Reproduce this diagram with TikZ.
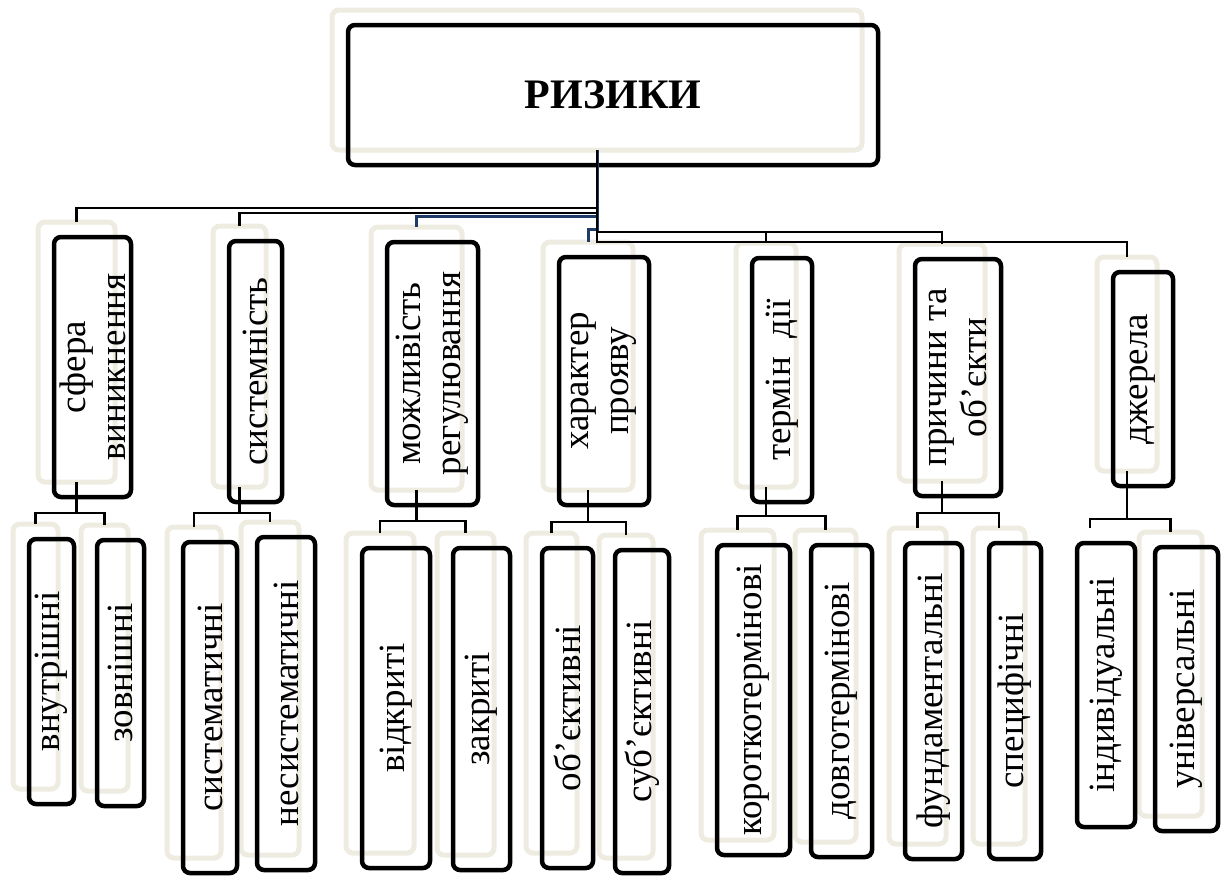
\documentclass[tikz,border=0pt]{standalone}
\usepackage{fontspec}
\setmainfont{Liberation Serif}
\usetikzlibrary{positioning,backgrounds}
\definecolor{shadebeige}{RGB}{238,236,225}
\definecolor{linkblue}{RGB}{31,60,105}
\tikzset{
  base/.style={font=\fontsize{37}{40}\selectfont, align=center, inner sep=0pt, outer sep=0pt},
  dims/.style 2 args={minimum width=#1, minimum height=#2},
  box/.style={rectangle, draw=black, line width=4.5pt, rounded corners=7pt, base},
  boxshadow/.style={rectangle, draw=shadebeige, line width=5pt, rounded corners=7pt, base},
  ghost/.style={rectangle, base},
  link/.style={line width=2.8pt, color=black},
  bluelink/.style={line width=3pt, color=linkblue}
}

\begin{document}
\begin{tikzpicture}[x=1pt, y=-1pt]
    \useasboundingbox (0,0) rectangle (1229,876);

    % top box
    \node[box, dims={530pt}{140pt}, font=\bfseries\fontsize{42}{46}\selectfont] (risk) at (613,95) {РИЗИКИ};

    % categories
    \node[box, rotate=90, dims={260pt}{77pt}] (sfera) at (92.5,367) {сфера\\виникнення};
    \node[box, rotate=90, dims={261pt}{53pt}] (sys) at (255.5,371.5) {системність};
    \node[box, rotate=90, dims={263pt}{91pt}] (reg) at (432.5,373.5) {можливість\\регулювання};
    \node[box, rotate=90, dims={248pt}{90pt}] (char) at (604,381) {характер\\прояву};
    \node[box, rotate=90, dims={244pt}{60pt}] (term) at (782,380) {термін~ дії};
    \node[box, rotate=90, dims={237pt}{86pt}] (prych) at (958,377.5) {причини та\\об’єкти};
    \node[box, rotate=90, dims={214pt}{60pt}] (dzh) at (1143,379) {джерела};

    % kinds
    \node[box, rotate=90, dims={265pt}{45pt}] (vnutr) at (51.5,671.5) {внутрішні};
    \node[box, rotate=90, dims={266pt}{47pt}] (zovn) at (120.5,673) {зовнішні};
    \node[box, rotate=90, dims={331pt}{54pt}] (syst) at (210,707.5) {систематичні};
    \node[box, rotate=90, dims={333pt}{58pt}] (nesyst) at (286,703.5) {несистематичні};
    \node[box, rotate=90, dims={320pt}{68pt}] (vidkr) at (396,708) {відкриті};
    \node[box, rotate=90, dims={322pt}{57pt}] (zakr) at (481.5,709) {закриті};
    \node[box, rotate=90, dims={320pt}{51pt}] (obj) at (567.5,708) {об’єктивні};
    \node[box, rotate=90, dims={323pt}{54pt}] (subj) at (642,711.5) {суб’єктивні};
    \node[box, rotate=90, dims={310pt}{73pt}] (korot) at (753.5,700) {короткотермінові};
    \node[box, rotate=90, dims={312pt}{61pt}] (dovgo) at (841.5,701) {довготермінові};
    \node[box, rotate=90, dims={316pt}{57pt}] (fund) at (933.5,701) {фундаментальні};
    \node[box, rotate=90, dims={316pt}{52pt}] (spec) at (1015,701) {специфічні};
    \node[box, rotate=90, dims={284pt}{58pt}] (indiv) at (1106,685) {індивідуальні};
    \node[box, rotate=90, dims={284pt}{63pt}] (univ) at (1186.5,689) {універсальні};

    % shadows behind the frames
    \begin{scope}[on background layer, every node/.append style={xshift=-16pt, yshift=15pt}]
      \node[boxshadow, dims={530pt}{140pt}] (riskS) at (risk) {};
      \node[boxshadow, dims={77pt}{260pt}] (sferaS) at (sfera) {};
      \node[boxshadow, dims={53pt}{261pt}] (sysS) at (sys) {};
      \node[boxshadow, dims={91pt}{263pt}] (regS) at (reg) {};
      \node[boxshadow, dims={90pt}{248pt}] (charS) at (char) {};
      \node[boxshadow, dims={60pt}{244pt}] (termS) at (term) {};
      \node[boxshadow, dims={86pt}{237pt}] (prychS) at (prych) {};
      \node[boxshadow, dims={60pt}{214pt}] (dzhS) at (dzh) {};
      \node[boxshadow, dims={45pt}{265pt}] (vnutrS) at (vnutr) {};
      \node[boxshadow, dims={47pt}{266pt}] (zovnS) at (zovn) {};
      \node[boxshadow, dims={54pt}{331pt}] (systS) at (syst) {};
      \node[boxshadow, dims={58pt}{333pt}] (nesystS) at (nesyst) {};
      \node[boxshadow, dims={68pt}{320pt}] (vidkrS) at (vidkr) {};
      \node[boxshadow, dims={57pt}{322pt}] (zakrS) at (zakr) {};
      \node[boxshadow, dims={51pt}{320pt}] (objS) at (obj) {};
      \node[boxshadow, dims={54pt}{323pt}] (subjS) at (subj) {};
      \node[boxshadow, dims={73pt}{310pt}] (korotS) at (korot) {};
      \node[boxshadow, dims={61pt}{312pt}] (dovgoS) at (dovgo) {};
      \node[boxshadow, dims={57pt}{316pt}] (fundS) at (fund) {};
      \node[boxshadow, dims={52pt}{316pt}] (specS) at (spec) {};
      \node[ghost, dims={58pt}{284pt}] (indivS) at (indiv) {};
      \node[boxshadow, dims={63pt}{284pt}] (univS) at (univ) {};
    \end{scope}

    % links from the top box
    \draw[bluelink] (riskS.south) -- ++(0,66) -| (regS.north);
    \draw[bluelink] (riskS.south) -- ++(0,79) -| (charS.north);
    \draw[link] (riskS.south) -- ++(0,58) -| (sferaS.north);
    \draw[link] (riskS.south) -- ++(0,63) -| (sysS.north);
    \draw[link] (riskS.south) -- ++(0,82) -| (termS.north);
    \draw[link] (riskS.south) -- ++(0,82) -| (prychS.north);
    \draw[link] (riskS.south) -- ++(0,92) -| (dzhS.north);

    % links to the kinds
    \draw[link] (sferaS.south) -- ++(0,31) -| (vnutrS.north);
    \draw[link] (sferaS.south) -- ++(0,31) -| (zovnS.north);
    \draw[link] (sysS.south) -- ++(0,26) -| (systS.north);
    \draw[link] (sysS.south) -- ++(0,26) -| (nesystS.north);
    \draw[link] (regS.south) -- ++(0,31) -| (vidkrS.north);
    \draw[link] (regS.south) -- ++(0,31) -| (zakrS.north);
    \draw[link] (charS.south) -- ++(0,32) -| (objS.north);
    \draw[link] (charS.south) -- ++(0,32) -| (subjS.north);
    \draw[link] (termS.south) -- ++(0,29) -| (korotS.north);
    \draw[link] (termS.south) -- ++(0,29) -| (dovgoS.north);
    \draw[link] (prychS.south) -- ++(0,32) -| (fundS.north);
    \draw[link] (prychS.south) -- ++(0,32) -| (specS.north);
    \draw[link] (dzhS.south) -- ++(0,48) -| (indivS.north);
    \draw[link] (dzhS.south) -- ++(0,48) -| (univS.north);
\end{tikzpicture}
\end{document}
